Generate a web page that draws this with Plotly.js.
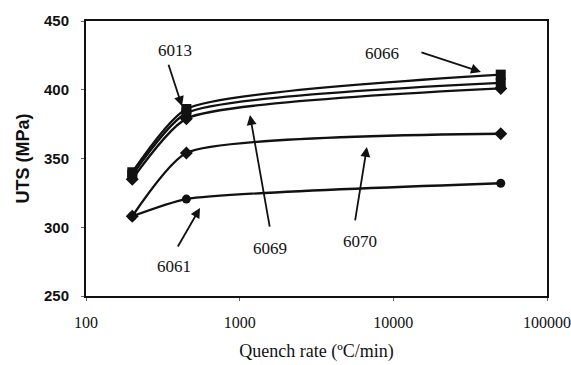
<!DOCTYPE html>
<html>
<head>
<meta charset="utf-8">
<script src="https://cdn.plot.ly/plotly-3.0.1.min.js"></script>
<style>html,body{margin:0;padding:0;background:#fff;}#chart{width:571px;height:365px;}</style>
</head>
<body>
<div id="chart"></div>
<script>
// Data
const quenchRate = [200, 450, 50000];
const uts6061 = [308, 320.5, 332];
const uts6070 = [308, 354, 368];
const uts6069 = [335, 379, 401];
const uts6013 = [338, 383, 405];
const uts6066 = [340, 386, 411];

const xTickVals = [100, 1000, 10000, 100000];
const xTickText = ['100', '1000', '10000', '100000'];
const yTickVals = [250, 300, 350, 400, 450];

// Label annotations: name, label position (log10 x, y), arrow tip (log10 x, y), tail offset px
const labelNames = ['6013', '6066', '6069', '6070', '6061'];
const labelX = [2.579, 3.926, 3.197, 3.783, 2.573];
const labelY = [428.2, 426.7, 284.9, 289.3, 271.8];
const tipX = [2.625, 4.570, 3.067, 3.828, 2.742];
const tipY = [388, 413, 381.6, 358.4, 314];
const tailDX = [-14, -61, 20, -12, -23];
const tailDY = [-43, -20, 113, 75, 40];

function series(y, symbol, size) {
  return {
    x: quenchRate, y: y, type: 'scatter', mode: 'lines+markers',
    line: {color: '#111', width: 2.3, shape: 'spline', smoothing: 0.55},
    marker: {symbol: symbol, size: size, color: '#111'},
    showlegend: false, hoverinfo: 'skip'
  };
}

const data = [
  series(uts6061, 'circle', 9),
  series(uts6070, 'diamond', 10),
  series(uts6069, 'diamond', 10),
  series(uts6013, 'square', 10),
  series(uts6066, 'square', 10)
];

const annotations = [];
for (let i = 0; i < labelNames.length; i++) {
  annotations.push({
    x: labelX[i], y: labelY[i], xref: 'x', yref: 'y', text: labelNames[i],
    showarrow: false, font: {family: 'Liberation Serif, Times New Roman, serif', size: 17, color: '#111'}
  });
  annotations.push({
    x: tipX[i], y: tipY[i], xref: 'x', yref: 'y', text: '',
    showarrow: true, ax: tailDX[i], ay: tailDY[i],
    arrowhead: 2, arrowsize: 1.1, arrowwidth: 1.8, arrowcolor: '#111', standoff: 0
  });
}

const layout = {
  width: 571, height: 365,
  margin: {l: 86, r: 24, t: 21, b: 69},
  paper_bgcolor: '#fff', plot_bgcolor: '#fff',
  xaxis: {
    type: 'log', range: [2, 5],
    tickvals: xTickVals, ticktext: xTickText,
    showgrid: false, zeroline: false,
    showline: true, mirror: true, linecolor: '#111', linewidth: 2,
    ticks: 'outside', ticklen: 3, tickcolor: '#666', ticklabelstandoff: 8,
    tickfont: {family: 'Liberation Serif, Times New Roman, serif', size: 16, color: '#111'},
    title: {text: 'Quench rate (ºC/min)', font: {family: 'Liberation Serif, Times New Roman, serif', size: 18, color: '#111'}, standoff: 14}
  },
  yaxis: {
    range: [250, 450], tickvals: yTickVals,
    showgrid: false, zeroline: false,
    showline: true, mirror: true, linecolor: '#111', linewidth: 2,
    ticks: 'outside', ticklen: 3, tickcolor: '#666', ticklabelstandoff: 9,
    tickfont: {family: 'Liberation Sans, Arial, sans-serif', size: 15, color: '#111', weight: 'bold'},
    title: {text: '<b>UTS (MPa)</b>', font: {family: 'Liberation Sans, Arial, sans-serif', size: 18, color: '#111'}, standoff: 10}
  },
  annotations: annotations
};

Plotly.newPlot('chart', data, layout, {staticPlot: true, displayModeBar: false});
</script>
</body>
</html>
